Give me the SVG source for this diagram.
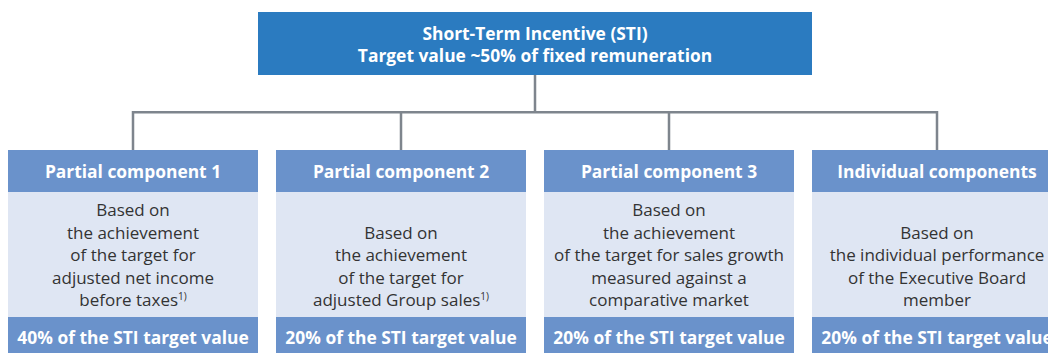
<svg xmlns="http://www.w3.org/2000/svg" width="1048" height="353" viewBox="0 0 1048 353">
<style>
.top{fill:#2B7BC0}
.hd{fill:#6A92CB}
.bd{fill:#DFE6F3}
.bt{font-family:"Open Sans","Noto Sans","Liberation Sans",sans-serif;font-weight:bold;font-size:17.4px;fill:#fff;text-anchor:middle}
.tx{font-family:"Open Sans","Noto Sans","Liberation Sans",sans-serif;font-size:17px;fill:#333;text-anchor:middle}
.sup{font-size:10px}
.con{fill:none;stroke:#7E858D;stroke-width:2.5}
</style>
<rect width="1048" height="353" fill="#fff"/>
<g id="connectors">
<path class="con" d="M535 75V112.3M133 150V112.3H937V150M401 112.3V150M669 112.3V150"/>
</g>
<g id="sti">
<rect class="top" x="258" y="12" width="554" height="63"/>
<text class="bt" x="535" y="40">Short-Term Incentive (STI)</text>
<text class="bt" x="535" y="62.3">Target value ~50% of fixed remuneration</text>
</g>
<g id="pc1">
<rect class="hd" x="8" y="150" width="250" height="42"/>
<rect class="bd" x="8" y="192" width="250" height="125"/>
<rect class="hd" x="8" y="317" width="250" height="40"/>
<text class="bt" x="133" y="178">Partial component 1</text>
<text class="tx" x="133" y="216">Based on</text>
<text class="tx" x="133" y="238.5">the achievement</text>
<text class="tx" x="133" y="261">of the target for</text>
<text class="tx" x="133" y="283.5">adjusted net income</text>
<text class="tx" x="133" y="306">before taxes<tspan class="sup" dy="-6">1)</tspan></text>
<text class="bt" x="133" y="344">40% of the STI target value</text>
</g>
<g id="pc2">
<rect class="hd" x="276" y="150" width="250" height="42"/>
<rect class="bd" x="276" y="192" width="250" height="125"/>
<rect class="hd" x="276" y="317" width="250" height="40"/>
<text class="bt" x="401" y="178">Partial component 2</text>
<text class="tx" x="401" y="238.5">Based on</text>
<text class="tx" x="401" y="261">the achievement</text>
<text class="tx" x="401" y="283.5">of the target for</text>
<text class="tx" x="401" y="306">adjusted Group sales<tspan class="sup" dy="-6">1)</tspan></text>
<text class="bt" x="401" y="344">20% of the STI target value</text>
</g>
<g id="pc3">
<rect class="hd" x="544" y="150" width="250" height="42"/>
<rect class="bd" x="544" y="192" width="250" height="125"/>
<rect class="hd" x="544" y="317" width="250" height="40"/>
<text class="bt" x="669" y="178">Partial component 3</text>
<text class="tx" x="669" y="216">Based on</text>
<text class="tx" x="669" y="238.5">the achievement</text>
<text class="tx" x="669" y="261">of the target for sales growth</text>
<text class="tx" x="669" y="283.5">measured against a</text>
<text class="tx" x="669" y="306">comparative market</text>
<text class="bt" x="669" y="344">20% of the STI target value</text>
</g>
<g id="ind">
<rect class="hd" x="812" y="150" width="250" height="42"/>
<rect class="bd" x="812" y="192" width="250" height="125"/>
<rect class="hd" x="812" y="317" width="250" height="40"/>
<text class="bt" x="937" y="178">Individual components</text>
<text class="tx" x="937" y="238.5">Based on</text>
<text class="tx" x="937" y="261">the individual performance</text>
<text class="tx" x="937" y="283.5">of the Executive Board</text>
<text class="tx" x="937" y="306">member</text>
<text class="bt" x="937" y="344">20% of the STI target value</text>
</g>
</svg>
